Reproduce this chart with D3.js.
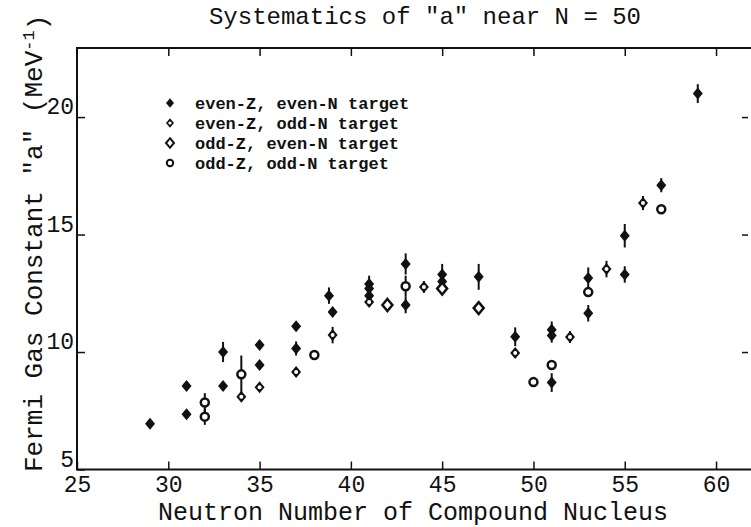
<!DOCTYPE html>
<html>
<head>
<meta charset="utf-8">
<script src="https://cdn.jsdelivr.net/npm/d3@7"></script>
<style>
body { margin: 0; background: #fff; }
text { font-family: "Liberation Mono", "DejaVu Sans Mono", monospace; fill: #111; }
</style>
</head>
<body>
<script>
// even-Z, even-N target
var eeN   = [29, 31, 31, 33, 33, 35, 35, 37, 37, 38.8, 39, 41, 41, 41, 43, 43, 45, 45, 47, 49, 51, 51, 51, 53, 53, 55, 55, 57, 59];
var eeA   = [6.95, 8.55, 7.35, 10.0, 8.55, 10.3, 9.45, 11.1, 10.15, 12.4, 11.7, 12.9, 12.7, 12.4, 13.75, 12.0, 13.3, 13.0, 13.2, 10.65, 10.95, 10.7, 8.7, 13.15, 11.65, 14.95, 13.3, 17.1, 21.0];
var eeErr = [0, 0, 0, 0.43, 0, 0, 0.15, 0, 0.3, 0.35, 0, 0.35, 0, 0, 0.45, 0.35, 0.45, 0, 0.55, 0.4, 0.35, 0.3, 0.4, 0.45, 0.35, 0.5, 0.35, 0.3, 0.4];
// even-Z, odd-N target
var eoN   = [34, 35, 37, 39, 41, 44, 49, 52, 54, 56];
var eoA   = [8.1, 8.5, 9.15, 10.72, 12.13, 12.77, 9.96, 10.64, 13.53, 16.34];
var eoErr = [0, 0, 0, 0.35, 0, 0.25, 0, 0.25, 0.35, 0.3];
// odd-Z, even-N target
var oeN   = [42, 45, 47];
var oeA   = [12.0, 12.7, 11.87];
var oeErr = [0, 0, 0];
// odd-Z, odd-N target
var ooN   = [32, 32, 34, 38, 43, 50, 51, 53, 57];
var ooA   = [7.85, 7.25, 9.05, 9.87, 12.8, 8.72, 9.45, 12.55, 16.08];
var ooErr = [0.4, 0.35, 0.8, 0, 0.45, 0, 0, 0, 0];

var legendLabels = ["even-Z, even-N target", "even-Z, odd-N target", "odd-Z, even-N target", "odd-Z, odd-N target"];
var xTicks = [25, 30, 35, 40, 45, 50, 55, 60];
var yTicks = [5, 10, 15, 20];

var w = 751, h = 527;
var plotL = 77, plotR = 750, plotT = 48, plotB = 469.5;

var svg = d3.select("body").append("svg")
  .attr("width", w)
  .attr("height", h);

var x = d3.scaleLinear().domain([25, 61.86]).range([plotL, plotR]);
var y = d3.scaleLinear().domain([5, 22.94]).range([plotB, plotT]);

// frame
svg.append("rect")
  .attr("x", plotL).attr("y", plotT)
  .attr("width", plotR - plotL + 4).attr("height", plotB - plotT)
  .attr("fill", "none").attr("stroke", "#111").attr("stroke-width", 2);

// axes with inward ticks
var xAxis = svg.append("g")
  .attr("transform", "translate(0," + plotB + ")")
  .call(d3.axisBottom(x).tickValues(xTicks).tickSize(-8).tickPadding(6));
var xTop = svg.append("g")
  .attr("transform", "translate(0," + plotT + ")")
  .call(d3.axisTop(x).tickValues(xTicks.slice(1)).tickSize(-8).tickFormat(""));
var yAxis = svg.append("g")
  .attr("transform", "translate(" + plotL + ",0)")
  .call(d3.axisLeft(y).tickValues(yTicks).tickSize(-8).tickPadding(3));
var yRight = svg.append("g")
  .attr("transform", "translate(" + (plotR - 2) + ",0)")
  .call(d3.axisRight(y).tickValues(yTicks.slice(1)).tickSize(-6).tickFormat(""));

svg.selectAll(".domain").remove();
svg.selectAll(".tick line").attr("stroke", "#111").attr("stroke-width", 1.5);
xAxis.selectAll("text").style("font-size", "23px").attr("font-family", null);
yAxis.selectAll("text").style("font-size", "23px").attr("font-family", null).attr("dy", "-0.15em");

// title and axis labels
svg.append("text")
  .attr("x", 425).attr("y", 24)
  .attr("text-anchor", "middle")
  .style("font-size", "24px")
  .text('Systematics of "a" near N = 50');

svg.append("text")
  .attr("x", 413).attr("y", 520)
  .attr("text-anchor", "middle")
  .style("font-size", "25px")
  .text("Neutron Number of Compound Nucleus");

var ylab = svg.append("text")
  .attr("transform", "translate(42,472) rotate(-90)")
  .style("font-size", "26px");
ylab.append("tspan").text('Fermi Gas Constant "a" (MeV');
ylab.append("tspan").attr("dy", "-0.45em").style("font-size", "17px").text("-1");
ylab.append("tspan").attr("dy", "0.45em").text(")");

// markers
var diamond = "M0,-6L5,0L0,6L-5,0Z";
function drawMarker(g, type) {
  if (type === 0) {
    g.append("path").attr("d", diamond).attr("fill", "#111");
  } else if (type === 1) {
    g.append("path").attr("d", diamond).attr("fill", "#111");
    g.append("circle").attr("r", 2).attr("fill", "#fff");
  } else if (type === 2) {
    g.append("path").attr("d", diamond)
      .attr("fill", "#fff").attr("stroke", "#111").attr("stroke-width", 2.5);
  } else {
    g.append("circle").attr("r", 4).attr("fill", "#fff").attr("stroke", "#111").attr("stroke-width", 2.5);
  }
}

var series = [
  { n: eeN, a: eeA, e: eeErr, type: 0 },
  { n: eoN, a: eoA, e: eoErr, type: 1 },
  { n: oeN, a: oeA, e: oeErr, type: 2 },
  { n: ooN, a: ooA, e: ooErr, type: 3 }
];

series.forEach(function(s) {
  var pts = s.n.map(function(d, i) { return { n: d, a: s.a[i], e: s.e[i] }; });
  svg.append("g").selectAll("line")
    .data(pts.filter(function(d) { return d.e > 0; }))
    .enter()
    .append("line")
    .attr("x1", function(d) { return x(d.n); })
    .attr("x2", function(d) { return x(d.n); })
    .attr("y1", function(d) { return y(d.a - d.e); })
    .attr("y2", function(d) { return y(d.a + d.e); })
    .attr("stroke", "#111")
    .attr("stroke-width", 2);
  svg.append("g").selectAll("g")
    .data(pts)
    .enter()
    .append("g")
    .attr("transform", function(d) { return "translate(" + x(d.n) + "," + y(d.a) + ")"; })
    .each(function() { drawMarker(d3.select(this), s.type); });
});

// legend
var legend = svg.append("g").attr("transform", "translate(170,0)");
legendLabels.forEach(function(t, i) {
  var row = legend.append("g").attr("transform", "translate(0," + (103 + i * 20) + ")");
  drawMarker(row.append("g").attr("transform", "scale(0.8)"), i);
  row.append("text")
    .attr("x", 25).attr("y", 6)
    .style("font-size", "17px")
    .style("font-weight", "bold")
    .text(t);
});
</script>
</body>
</html>
